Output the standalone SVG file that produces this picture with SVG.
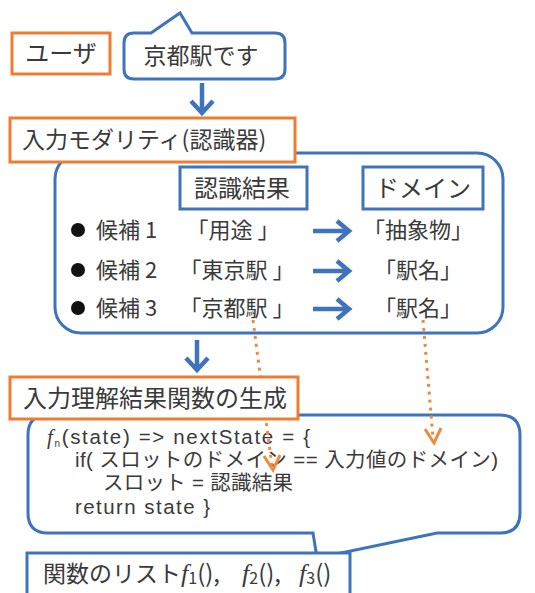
<svg xmlns="http://www.w3.org/2000/svg" width="535" height="593" viewBox="0 0 535 593">
<style>
.t{font-family:"Noto Sans CJK JP","Noto Sans",sans-serif;fill:#3a3a3a;}
.lbl{font-size:23px;}
.lbl24{font-size:24px;}
.row{font-size:22px;}
.code{font-family:"Liberation Sans","Noto Sans CJK JP",sans-serif;font-size:20.5px;fill:#3a3a3a;}
.ob{fill:#fff;stroke:#ED7D31;stroke-width:3;}
.bb{fill:#fff;stroke:#3F74BC;stroke-width:3;}
.bn{fill:none;stroke:#3F74BC;stroke-width:3;}
.ba{fill:none;stroke:#3F74BC;stroke-width:4.5;}
.od{fill:none;stroke:#F08A3C;stroke-width:3;stroke-dasharray:3 5;}
.oh{fill:none;stroke:#F08A3C;stroke-width:3;}
.fi{font-family:"Liberation Serif",serif;font-style:italic;}
</style>
<rect width="535" height="593" fill="#fff"/>
<g id="utterance">
<path class="bb" d="M134,33 L151,33 L180,13 L192,33 L275,33 Q285,33 285,43 L285,69 Q285,79 275,79 L134,79 Q124,79 124,69 L124,43 Q124,33 134,33 Z"/>
<text class="t lbl" x="201" y="64" text-anchor="middle">京都駅です</text>
</g>
<g id="user">
<rect class="ob" x="12" y="33" width="98" height="41"/>
<text class="t lbl24" x="61" y="62" text-anchor="middle">ユーザ</text>
</g>
<g id="recognizer-panel">
<rect class="bn" x="55" y="153" width="448" height="180" rx="26"/>
<rect class="bn" x="180" y="167" width="127" height="42"/>
<text class="t lbl24" x="242" y="197" text-anchor="middle">認識結果</text>
<rect class="bn" x="363" y="167" width="120" height="42"/>
<text class="t lbl24" x="423" y="197" text-anchor="middle">ドメイン</text>
<circle cx="78" cy="230" r="7" fill="#111"/>
<circle cx="78" cy="270" r="7" fill="#111"/>
<circle cx="78" cy="308" r="7" fill="#111"/>
<text class="t row" x="96" y="238">候補 1</text>
<text class="t row" x="96" y="278">候補 2</text>
<text class="t row" x="96" y="316">候補 3</text>
<text class="t row" x="233" y="238" text-anchor="middle">「用途 」</text>
<text class="t row" x="237" y="278" text-anchor="middle">「東京駅 」</text>
<text class="t row" x="237" y="316" text-anchor="middle">「京都駅 」</text>
<text class="t row" x="418" y="238" text-anchor="middle">「抽象物」</text>
<text class="t row" x="418" y="278" text-anchor="middle">「駅名」</text>
<text class="t row" x="418" y="316" text-anchor="middle">「駅名」</text>
</g>
<g id="function-callout">
<path class="bb" d="M48,415 L500,415 Q520,415 520,435 L520,513 Q520,533 500,533 L437,533 L317,558 L313,533 L48,533 Q28,533 28,513 L28,435 Q28,415 48,415 Z"/>
<text class="code" x="47" y="444" textLength="263" lengthAdjust="spacing"><tspan class="fi" font-size="21">f</tspan><tspan font-size="10" dy="3">n</tspan><tspan dy="-3">(state) =&gt; nextState = {</tspan></text>
<text class="code" x="75" y="467" textLength="423" lengthAdjust="spacing">if( スロットのドメイン == 入力値のドメイン)</text>
<text class="code" x="103" y="490" textLength="190" lengthAdjust="spacing">スロット = 認識結果</text>
<text class="code" x="75" y="514" textLength="135" lengthAdjust="spacing">return state }</text>
</g>
<g id="function-list">
<rect class="bb" x="27" y="553" width="323" height="50"/>
<text class="t lbl" x="43" y="582">関数のリスト<tspan class="fi" font-size="26" x="181">f</tspan><tspan font-size="16" dy="2">1</tspan><tspan font-size="24" dy="-2">(),</tspan><tspan class="fi" font-size="26" x="242">f</tspan><tspan font-size="16" dy="2">2</tspan><tspan font-size="24" dy="-2">(),</tspan><tspan class="fi" font-size="26" x="299">f</tspan><tspan font-size="16" dy="2">3</tspan><tspan font-size="24" dy="-2">()</tspan></text>
</g>
<g id="connectors">
<path class="ba" d="M202,83 L202,113 M191,101 L202,113 L213,101"/>
<path class="ba" d="M313,231 L348,231 M337,221 L349,231 L337,241"/>
<path class="ba" d="M313,271 L348,271 M337,261 L349,271 L337,281"/>
<path class="ba" d="M313,309 L348,309 M337,299 L349,309 L337,319"/>
<path class="ba" d="M197,340 L197,370 M186,358 L197,370 L208,358"/>
<path class="od" d="M253,320 L272,466"/>
<path class="oh" d="M264,456 L273,470 L280,455"/>
<path class="od" d="M423,320 L433,438"/>
<path class="oh" d="M425,429 L434,443 L441,428"/>
</g>
<g id="input-modality">
<rect class="ob" x="10" y="118" width="285" height="44"/>
<text class="t lbl" x="22" y="148">入力モダリティ(認識器)</text>
</g>
<g id="generate">
<rect class="ob" x="10" y="377" width="288" height="42"/>
<text class="t lbl24" x="23" y="407">入力理解結果関数の生成</text>
</g>
</svg>
